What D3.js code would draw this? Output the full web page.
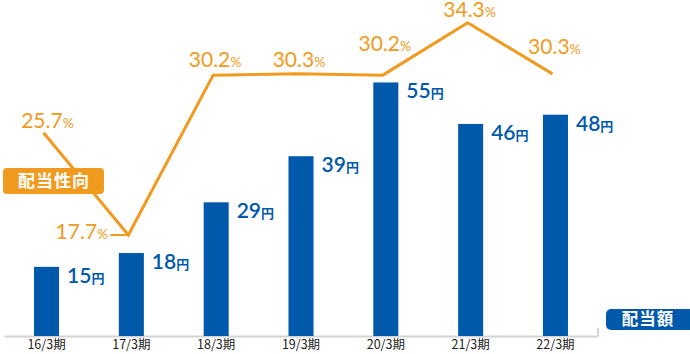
<!DOCTYPE html>
<html>
<head>
<meta charset="utf-8">
<script src="https://cdn.jsdelivr.net/npm/d3@7"></script>
<style>
  body { margin: 0; background: #fff; }
  svg { display: block; }
</style>
</head>
<body>
<div id="root"></div>
<script>
const periods = ["16/3期", "17/3期", "18/3期", "19/3期", "20/3期", "21/3期", "22/3期"];
const dividends = [15, 18, 29, 39, 55, 46, 48];
const payoutRatios = [25.7, 17.7, 30.2, 30.3, 30.2, 34.3, 30.3];

const width = 690, height = 354;
const blue = "#0059aa", orange = "#f19a20";
const numFont = "Lato, 'Noto Sans', sans-serif";
const jpFont = "'Noto Sans CJK JP', 'Noto Sans', sans-serif";

const svg = d3.select("#root").append("svg")
  .attr("width", width)
  .attr("height", height);

const xScale = d3.scaleBand().domain(periods).range([4, 598]).paddingInner(0.705).paddingOuter(0.354);
const yScale = d3.scaleLinear().domain([0, 60]).range([336, 59.4]);
// payout ratio has its own scale
const rScale = d3.scaleLinear().domain([0, 40]).range([461.4, -50.2]);

// axis
const xAxis = d3.axisBottom(xScale).tickSize(0).tickSizeOuter(0).tickPadding(4);
const axis = svg.append("g")
  .attr("transform", `translate(0, ${yScale(0)})`)
  .call(xAxis);
axis.select(".domain").attr("stroke", "#d4d4d4").attr("stroke-width", 2);
axis.selectAll(".tick text")
  .attr("font-family", jpFont)
  .attr("font-size", 12.5)
  .attr("fill", "#222");
axis.append("line")
  .attr("x1", xScale.range()[1]).attr("x2", xScale.range()[1])
  .attr("y1", -8).attr("y2", 0)
  .attr("stroke", "#d4d4d4").attr("stroke-width", 2);

// bars
svg.selectAll(".bar").data(dividends).enter().append("rect")
  .attr("class", "bar")
  .attr("x", (d, i) => xScale(periods[i]))
  .attr("y", d => yScale(d))
  .attr("width", xScale.bandwidth())
  .attr("height", d => yScale(0) - yScale(d))
  .attr("fill", blue);

// bar labels
const barLabels = svg.selectAll(".bar-label").data(dividends).enter().append("text")
  .attr("class", "bar-label")
  .attr("x", (d, i) => xScale(periods[i]) + xScale.bandwidth() + 8)
  .attr("y", d => yScale(d) + 16)
  .attr("fill", blue)
  .attr("font-family", numFont)
  .attr("font-weight", 600)
  .attr("font-size", 21);
barLabels.append("tspan").text(d => d);
barLabels.append("tspan")
  .attr("font-family", jpFont)
  .attr("font-size", 13)
  .attr("font-weight", 700)
  .text("円");

// payout line
const lineX = (i) => xScale(periods[i]) + xScale.bandwidth() / 2 - 3;
const line = d3.line()
  .x((d, i) => lineX(i))
  .y(d => rScale(d));

// leader for 17.7%
svg.append("line")
  .attr("x1", lineX(1) - 18).attr("x2", lineX(1))
  .attr("y1", rScale(payoutRatios[1])).attr("y2", rScale(payoutRatios[1]))
  .attr("stroke", orange).attr("stroke-width", 2);

svg.append("path")
  .datum(payoutRatios)
  .attr("d", line)
  .attr("fill", "none")
  .attr("stroke", orange)
  .attr("stroke-width", 3)
  .attr("stroke-linejoin", "miter");

// ratio labels: [dx, dy, anchor]
const labelPos = [[4, -5, "middle"], [-20, 4, "end"], [2, -8, "middle"], [1, -7, "middle"], [2, -24, "middle"], [2, -5.5, "middle"], [2, -20, "middle"]];
const ratioLabels = svg.selectAll(".ratio-label").data(payoutRatios).enter().append("text")
  .attr("class", "ratio-label")
  .attr("x", (d, i) => lineX(i) + labelPos[i][0])
  .attr("y", (d, i) => rScale(d) + labelPos[i][1])
  .attr("text-anchor", (d, i) => labelPos[i][2])
  .attr("fill", orange)
  .attr("font-family", numFont)
  .attr("font-size", 21);
ratioLabels.append("tspan").text(d => d.toFixed(1));
ratioLabels.append("tspan").attr("font-size", 14).text("%");

// legend tags
const tag1 = svg.append("g");
tag1.append("rect")
  .attr("x", 3).attr("y", 168).attr("width", 101).attr("height", 26).attr("rx", 4)
  .attr("fill", orange);
tag1.append("text")
  .attr("x", 54).attr("y", 187)
  .attr("text-anchor", "middle")
  .attr("fill", "#fff")
  .attr("font-family", jpFont)
  .attr("font-weight", 700)
  .attr("font-size", 17)
  .attr("letter-spacing", 1)
  .text("配当性向");

const tag2 = svg.append("g");
tag2.append("rect")
  .attr("x", 606).attr("y", 309).attr("width", 95).attr("height", 21).attr("rx", 5)
  .attr("fill", blue);
tag2.append("text")
  .attr("x", 648).attr("y", 325)
  .attr("text-anchor", "middle")
  .attr("fill", "#fff")
  .attr("font-family", jpFont)
  .attr("font-weight", 700)
  .attr("font-size", 16.5)
  .attr("letter-spacing", 1)
  .text("配当額");
</script>
</body>
</html>
